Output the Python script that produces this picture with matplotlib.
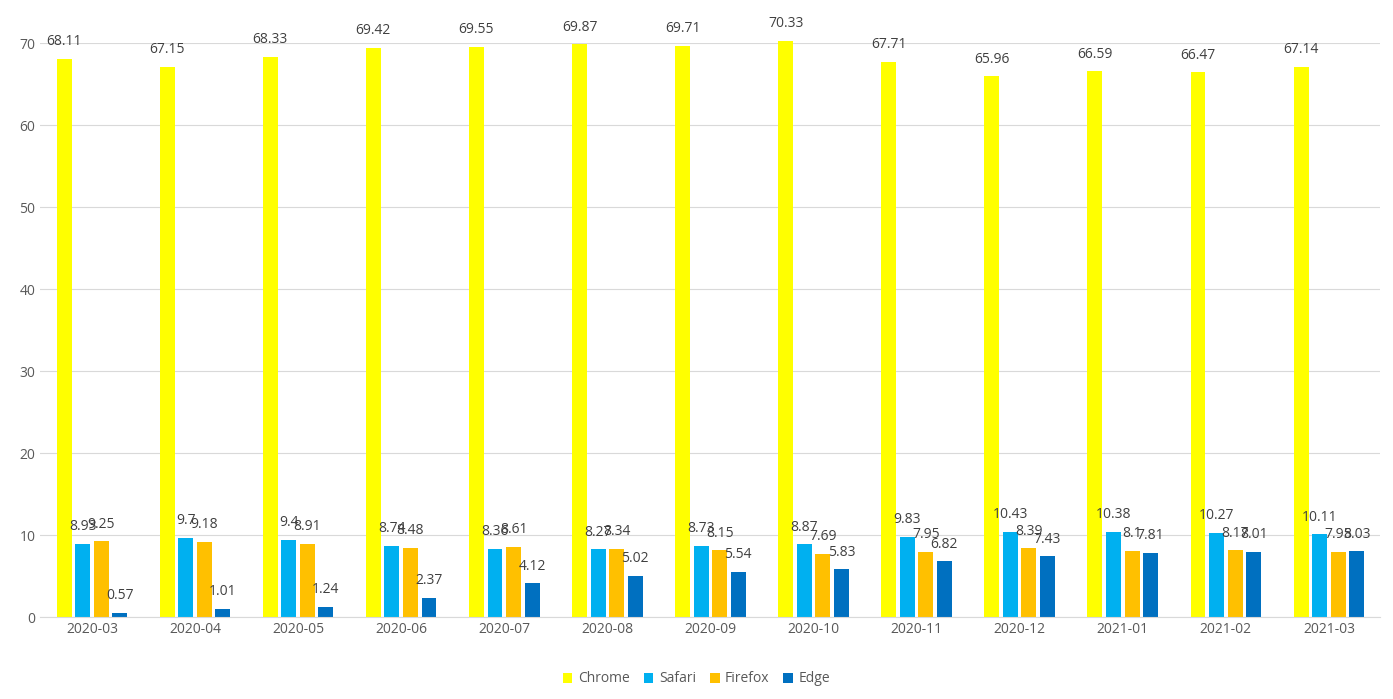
import matplotlib
matplotlib.use("Agg")
import matplotlib.pyplot as plt
import numpy as np

months = ["2020-03","2020-04","2020-05","2020-06","2020-07","2020-08","2020-09",
          "2020-10","2020-11","2020-12","2021-01","2021-02","2021-03"]
chrome = [68.11,67.15,68.33,69.42,69.55,69.87,69.71,70.33,67.71,65.96,66.59,66.47,67.14]
safari = [8.93,9.7,9.4,8.74,8.36,8.27,8.73,8.87,9.83,10.43,10.38,10.27,10.11]
firefox = [9.25,9.18,8.91,8.48,8.61,8.34,8.15,7.69,7.95,8.39,8.1,8.17,7.95]
edge = [0.57,1.01,1.24,2.37,4.12,5.02,5.54,5.83,6.82,7.43,7.81,8.01,8.03]
series = [("Chrome", chrome, "#FFFF00"), ("Safari", safari, "#00B0F0"),
          ("Firefox", firefox, "#FFC000"), ("Edge", edge, "#0070C0")]

plt.rcParams["font.family"] = ["Liberation Sans Narrow", "Open Sans"]
fig = plt.figure(figsize=(13.93, 6.99), dpi=100)
ax = fig.add_axes([0.029, 0.117, 0.962, 0.821])
x = np.arange(len(months))
offs = [-0.27, -0.09, 0.09, 0.27]
for (name, vals, col), o in zip(series, offs):
    bars = ax.bar(x + o, vals, width=0.145, color=col, label=name, zorder=2, clip_on=False)
    for b, v in zip(bars, vals):
        ax.annotate(f"{v:g}", (b.get_x() + b.get_width()/2, v), xytext=(0, 7),
                    textcoords="offset points", ha="center", va="bottom",
                    fontsize=10, color="#404040", annotation_clip=False)
ax.set_ylim(0, 70)
ax.set_xlim(-0.5, len(months) - 0.5)
ax.set_yticks(range(0, 71, 10))
ax.set_xticks(x)
ax.set_xticklabels(months)
ax.tick_params(axis="both", length=0, labelsize=10, colors="#595959")
ax.grid(axis="y", color="#D9D9D9", linewidth=0.8, zorder=0)
for s in ["top", "right", "left"]:
    ax.spines[s].set_visible(False)
ax.spines["bottom"].set_color("#D9D9D9")
fig.legend(loc="lower center", ncol=4, frameon=False, fontsize=10,
           bbox_to_anchor=(0.5, 0.0), handlelength=0.7, handleheight=0.7,
           columnspacing=1.0, handletextpad=0.4, labelcolor="#595959")
fig.savefig("out.png", dpi=100)
